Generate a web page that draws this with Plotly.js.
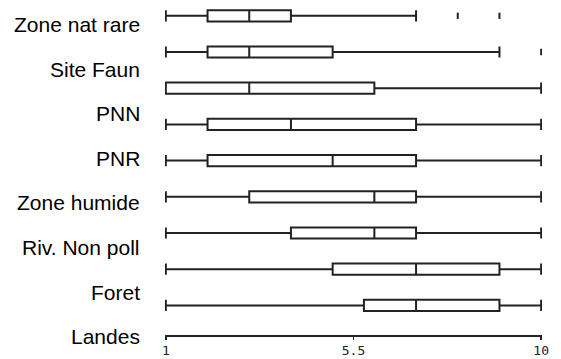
<!DOCTYPE html>
<html>
<head>
<meta charset="utf-8">
<script src="https://cdn.plot.ly/plotly-3.0.1.min.js"></script>
<style>html,body{margin:0;padding:0;background:#fff;}#chart{width:561px;height:359px;}</style>
</head>
<body>
<div id="chart"></div>
<script>
// ---- data ----
const categories = ["Zone nat rare", "Site Faun", "PNN", "PNR", "Zone humide", "Riv. Non poll", "Foret", "Landes"];
const rowPositions = [1, 2, 3, 4, 5, 6, 7, 8, 9];
const lowerFence = [1, 1, 1, 1, 1, 1, 1, 1, 1];
const q1Values = [2, 2, 1, 2, 2, 3, 4, 5, 5.75];
const medianValues = [3, 3, 3, 4, 5, 6, 6, 7, 7];
const q3Values = [4, 5, 6, 7, 7, 7, 7, 9, 9];
const upperFence = [7, 9, 10, 10, 10, 10, 10, 10, 10];
const outlierValues = [8, 9, 10];
const outlierRows = [1, 1, 2];
const tickValues = [1, 5.5, 10];
const tickLabels = ["1", "5.5", "10"];

const lineColor = "#222";

const traces = [
  {
    type: "box",
    orientation: "h",
    y: rowPositions,
    q1: q1Values,
    median: medianValues,
    q3: q3Values,
    lowerfence: lowerFence,
    upperfence: upperFence,
    boxpoints: false,
    width: 0.31,
    whiskerwidth: 1,
    fillcolor: "#fff",
    line: {color: lineColor, width: 2},
    hoverinfo: "skip",
    showlegend: false
  },
  {
    type: "scatter",
    mode: "markers",
    x: outlierValues,
    y: outlierRows,
    marker: {symbol: "line-ns-open", size: 4.5, color: lineColor, line: {color: lineColor, width: 2}},
    hoverinfo: "skip",
    showlegend: false
  }
];

// label layout: evenly spaced down the left side (pixel positions within plot area)
const plotHeight = 335;
const firstLabelPx = 24.5, labelStepPx = 44.6;
const annotations = categories.map((c, i) => ({
  text: c,
  xref: "paper", yref: "paper",
  x: 0, xshift: -23,
  xanchor: "right",
  y: (plotHeight - (firstLabelPx + labelStepPx * i)) / plotHeight,
  yanchor: "middle",
  showarrow: false,
  font: {family: "Liberation Sans, Arial, sans-serif", size: 21, color: "#000"}
}));

const layout = {
  width: 561, height: 359,
  margin: {l: 165, r: 19, t: 0, b: 24, pad: 0},
  paper_bgcolor: "#fff", plot_bgcolor: "#fff",
  showlegend: false,
  xaxis: {
    range: [0.98, 10.02],
    tickvals: tickValues, ticktext: tickLabels,
    showgrid: false, zeroline: false,
    showline: true, linecolor: lineColor, linewidth: 1.5,
    ticks: "outside", ticklen: 3, tickwidth: 1.5, tickcolor: lineColor,
    tickfont: {family: "DejaVu Sans Mono, monospace", size: 13, color: "#222"}
  },
  yaxis: {
    range: [9.818, 0.5635],
    showgrid: false, zeroline: false, showline: false,
    showticklabels: false, ticks: ""
  },
  annotations: annotations
};

Plotly.newPlot("chart", traces, layout, {displayModeBar: false, staticPlot: true});
</script>
</body>
</html>
